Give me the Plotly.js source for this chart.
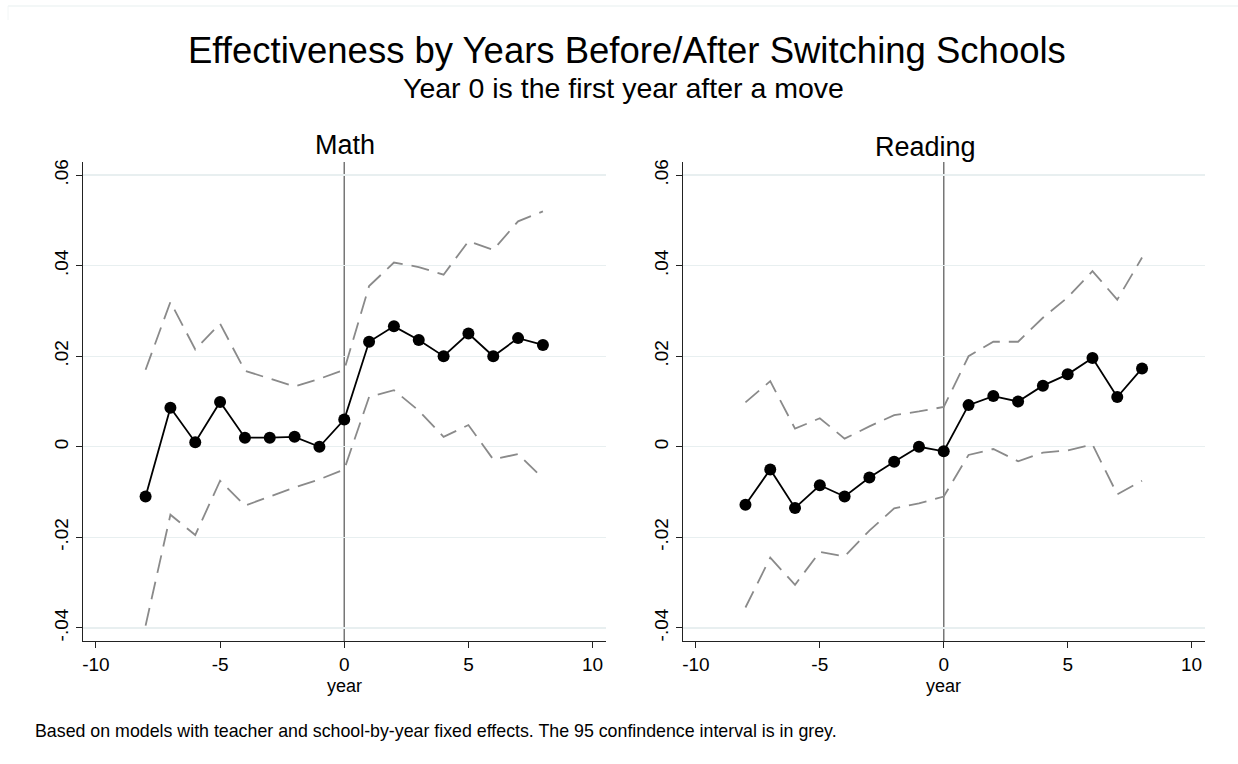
<!DOCTYPE html>
<html>
<head>
<meta charset="utf-8">
<script src="https://cdn.plot.ly/plotly-3.0.1.min.js"></script>
<style>html,body{margin:0;padding:0;background:#fff;}#chart{width:1238px;height:764px;}</style>
</head>
<body>
<div id="chart"></div>
<script>
const years = [-8,-7,-6,-5,-4,-3,-2,-1,0,1,2,3,4,5,6,7,8];

const mathEst   = [-0.011,0.0086,0.001,0.0099,0.002,0.002,0.0022,0.0,0.006,0.0232,0.0266,0.0236,0.020,0.025,0.020,0.024,0.0225];
const mathUpper = [0.017,0.032,0.0215,0.0272,0.0168,0.015,0.0133,0.015,0.017,0.0355,0.0407,0.0397,0.038,0.0454,0.0435,0.0498,0.052];
const mathLower = [-0.0395,-0.015,-0.0195,-0.0075,-0.013,-0.011,-0.009,-0.0072,-0.005,0.011,0.0125,0.008,0.0022,0.0048,-0.0028,-0.0016,-0.007];

const readEst   = [-0.0128,-0.005,-0.0135,-0.0085,-0.011,-0.0068,-0.0033,0.0,-0.001,0.0092,0.0112,0.010,0.0135,0.016,0.0196,0.011,0.0173];
const readUpper = [0.0098,0.0145,0.004,0.0063,0.0018,0.0045,0.007,0.0078,0.0088,0.020,0.0232,0.0232,0.0285,0.033,0.0388,0.0325,0.0418];
const readLower = [-0.0355,-0.0245,-0.0305,-0.0232,-0.0242,-0.0185,-0.0136,-0.0125,-0.011,-0.0018,-0.0005,-0.0032,-0.0013,-0.0008,0.0005,-0.0105,-0.0075];

const yTickVals = [-0.04,-0.02,0,0.02,0.04,0.06];
const yTickText = ["-.04","-.02","0",".02",".04",".06"];
const xTickVals = [-10,-5,0,5,10];
const xTickText = ["-10","-5","0","5","10"];

const panelTitles = ["Math","Reading"];
const mainTitle = "Effectiveness by Years Before/After Switching Schools";
const subTitle = "Year 0 is the first year after a move";
const xTitle = "year";
const note = "Based on models with teacher and school-by-year fixed effects. The 95 confindence interval is in grey.";

const W = 1238, H = 764;
const FONT = "Liberation Sans, Arial, sans-serif";
const PT = 162, PB = 641;   // plot top / bottom in pixels

function ciTrace(y, ax){
  return {x: years, y: y, xaxis: ax[0], yaxis: ax[1], type:'scatter', mode:'lines',
    line:{color:'#8a8a8a', width:1.8, dash:'18px,9px'}, hoverinfo:'skip', showlegend:false};
}
function estTrace(y, ax){
  return {x: years, y: y, xaxis: ax[0], yaxis: ax[1], type:'scatter', mode:'lines+markers',
    line:{color:'#000', width:1.8}, marker:{color:'#000', size:12}, showlegend:false};
}

const data = [
  ciTrace(mathUpper,['x','y']), ciTrace(mathLower,['x','y']), estTrace(mathEst,['x','y']),
  ciTrace(readUpper,['x2','y2']), ciTrace(readLower,['x2','y2']), estTrace(readEst,['x2','y2'])
];

function xa(domain, anchor){
  return {domain: domain, anchor: anchor, range:[-10.52,10.54], tickvals:xTickVals, ticktext:xTickText,
    ticks:'outside', ticklen:6, tickcolor:'#222', tickwidth:1, showline:true, linecolor:'#222', linewidth:1.3,
    showgrid:false, zeroline:false, tickfont:{family:FONT, size:19, color:'#000'}};
}
function ya(anchor){
  return {domain:[(H-PB)/H,(H-PT)/H], anchor: anchor, range:[-0.0429,0.0629], tickvals:yTickVals, ticktext:yTickText,
    tickangle:-90, ticks:'outside', ticklen:6, tickcolor:'#222', tickwidth:1, showline:true, linecolor:'#222', linewidth:1.3,
    showgrid:true, gridcolor:'#e8eff0', gridwidth:1.3, zeroline:false, tickfont:{family:FONT, size:19, color:'#000'}};
}

function ann(text, xpx, ypx, size, xanchor){
  return {text:text, xref:'paper', yref:'paper', x:xpx/W, y:(H-ypx)/H, xanchor:xanchor||'center', yanchor:'middle',
    showarrow:false, font:{family:FONT, size:size, color:'#000'}};
}

const layout = {
  width:W, height:H, margin:{l:0,r:0,t:0,b:0}, paper_bgcolor:'#fff', plot_bgcolor:'#fff',
  showlegend:false,
  xaxis: xa([83/W,606/W],'y'),
  yaxis: ya('x'),
  xaxis2: xa([683/W,1205/W],'y2'),
  yaxis2: ya('x2'),
  shapes:[
    {type:'line', xref:'x', yref:'y domain', x0:0, x1:0, y0:0, y1:1, line:{color:'#777', width:1.5}, layer:'below'},
    {type:'line', xref:'x2', yref:'y2 domain', x0:0, x1:0, y0:0, y1:1, line:{color:'#777', width:1.5}, layer:'below'},
    {type:'line', xref:'paper', yref:'paper', x0:8/W, x1:1, y0:(H-6)/H, y1:(H-6)/H, line:{color:'#e8eff0', width:1.2}},
    {type:'line', xref:'paper', yref:'paper', x0:8/W, x1:8/W, y0:(H-6)/H, y1:(H-20)/H, line:{color:'#f2f6f6', width:1}}
  ],
  annotations:[
    ann(mainTitle, 627, 50, 36.5),
    ann(subTitle, 623, 88, 28.5),
    ann(panelTitles[0], 345, 145, 27),
    ann(panelTitles[1], 925, 147, 27),
    ann(xTitle, 344, 686, 18),
    ann(xTitle, 943, 686, 18),
    ann(note, 33, 731, 17.8, 'left')
  ]
};

Plotly.newPlot('chart', data, layout, {displayModeBar:false, staticPlot:true});
</script>
</body>
</html>
